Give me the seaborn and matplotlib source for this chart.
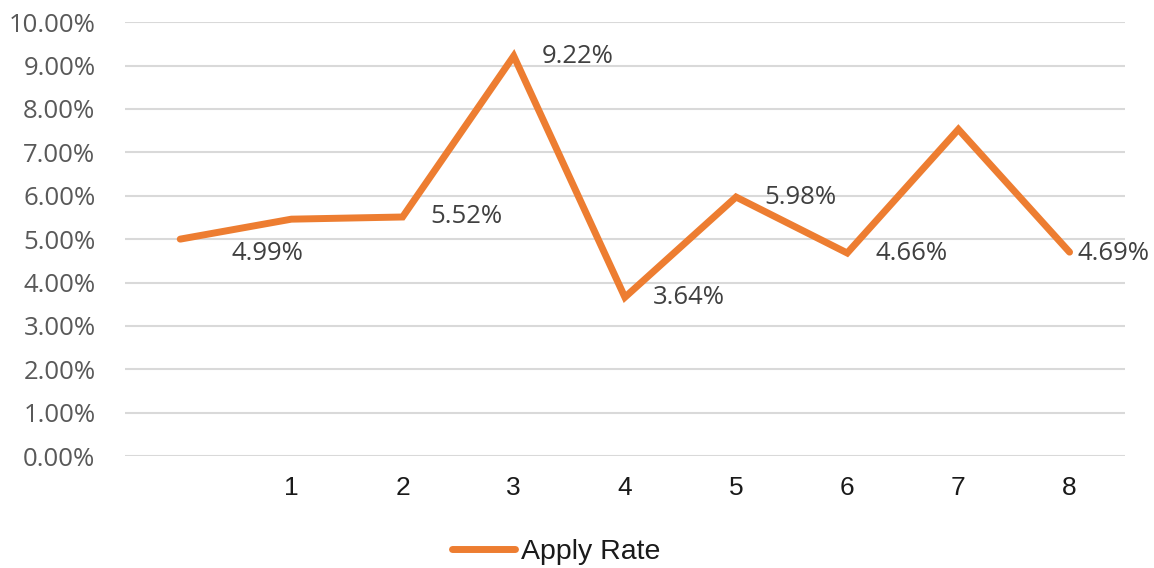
import numpy as np
import seaborn as sns
import matplotlib.pyplot as plt
from matplotlib.ticker import PercentFormatter

# values (apply rate in %)
rates = [5.00, 5.46, 5.51, 9.22, 3.66, 5.97, 4.68, 7.53, 4.70]
point_labels = ["4.99%", None, "5.52%", "9.22%", "3.64%", "5.98%", "4.66%", None, "4.69%"]
tick_labels = ["1", "2", "3", "4", "5", "6", "7", "8"]
series_name = "Apply Rate"

sns.set_theme(style="white")
plt.rcParams['font.family'] = ['Open Sans', 'DejaVu Sans']

fig = plt.figure(figsize=(11.54, 5.68), dpi=100)
ax = fig.add_axes([0.108, 0.197, 0.867, 0.764])

x = np.arange(len(rates))
sns.lineplot(x=x, y=[r / 100 for r in rates], ax=ax, color='#ED7D31',
             linewidth=5, label=series_name, solid_capstyle='round',
             solid_joinstyle='miter', legend=False)

for xi, r, txt in zip(x, rates, point_labels):
    if txt is None:
        continue
    if xi == 0:
        off = (37, -10)
    elif xi == len(rates) - 1:
        off = (6, -1)
    else:
        off = (20, 0)
    ax.annotate(txt, (xi, r / 100), xytext=off, textcoords='offset points',
                ha='left', va='center', fontsize=18.5, color='#404040')

ax.set_xlim(-0.5, len(rates) - 0.5)
ax.set_ylim(0, 0.10)
ax.set_yticks(np.arange(0, 0.1001, 0.01))
ax.yaxis.set_major_formatter(PercentFormatter(1.0, decimals=2))
ax.set_xticks(range(1, len(rates)), tick_labels)
ax.grid(axis='y', color='#D9D9D9', linewidth=1.5)
ax.set_axisbelow(True)
for s in ax.spines.values():
    s.set_visible(False)
ax.tick_params(axis='y', length=0, pad=21, labelsize=18.5, labelcolor='#595959')
ax.tick_params(axis='x', length=0, pad=14, labelsize=19, labelcolor='#1a1a1a')
for t in ax.get_xticklabels():
    t.set_family(['Liberation Sans', 'DejaVu Sans'])
ax.set_xlabel('')
ax.set_ylabel('')

handles, labels = ax.get_legend_handles_labels()
if not handles:
    handles = ax.get_lines()[:1]
    labels = [series_name]
leg = fig.legend(handles, labels, loc='lower center', bbox_to_anchor=(0.482, -0.04),
                 frameon=False, handlelength=2.2, handletextpad=0.2,
                 prop={'family': ['Liberation Sans', 'DejaVu Sans'], 'size': 20.5})
for t in leg.get_texts():
    t.set_color('#1a1a1a')

fig.savefig('out.png', dpi=100)
